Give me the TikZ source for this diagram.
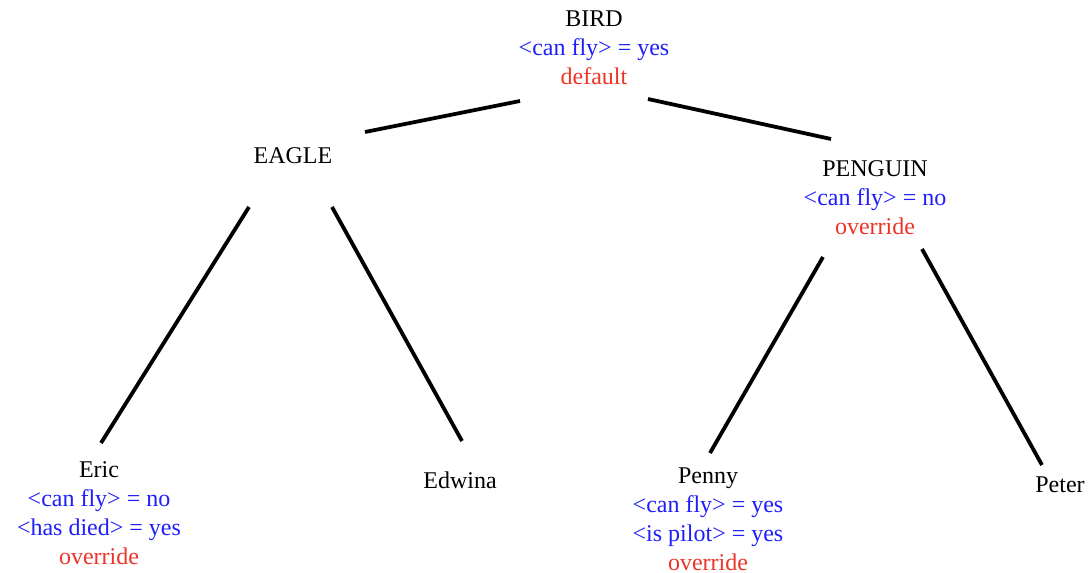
\documentclass[tikz,border=0pt]{standalone}
\usepackage{fontspec}
\setmainfont{Liberation Serif}
\usepackage{tikz}
\usetikzlibrary{positioning}
\usepackage{xcolor}

\definecolor{attrblue}{RGB}{30,30,250}
\definecolor{noteRed}{RGB}{236,52,40}

\begin{document}
\begin{tikzpicture}[x=1pt, y=-1pt,
    every node/.style={inner sep=0pt, align=center, anchor=base,
      font=\fontsize{24}{29}\selectfont},
    branch/.style={line width=3.8pt, black}]

      \useasboundingbox (0, 0) rectangle (1088, 573);

      % base of a stacked node is its last line
      \node (bird) at (594, 84) {BIRD\\ \textcolor{attrblue}{<can fly> = yes}\\ \textcolor{noteRed}{default}};
      \node (eagle) at (293, 163) {EAGLE};
      \node (penguin) at (875, 234) {PENGUIN\\ \textcolor{attrblue}{<can fly> = no}\\ \textcolor{noteRed}{override}};

      \node (eric) at (99, 564) {Eric\\ \textcolor{attrblue}{<can fly> = no}\\ \textcolor{attrblue}{<has died> = yes}\\ \textcolor{noteRed}{override}};
      \node (edwina) at (460, 488) {Edwina};
      \node (penny) at (708, 570) {Penny\\ \textcolor{attrblue}{<can fly> = yes}\\ \textcolor{attrblue}{<is pilot> = yes}\\ \textcolor{noteRed}{override}};
      \node (peter) at (1060, 492) {Peter};

      \draw[branch] ([shift={(-74, 17)}]bird.base) -- ([shift={(72, -31)}]eagle.base);
      \draw[branch] ([shift={(54, 15)}]bird.base) -- ([shift={(-44, -95)}]penguin.base);

      \draw[branch] ([shift={(-44, 44)}]eagle.base) -- ([shift={(2, -121)}]eric.base);
      \draw[branch] ([shift={(39, 44)}]eagle.base) -- ([shift={(2, -47)}]edwina.base);

      \draw[branch] ([shift={(-52, 23)}]penguin.base) -- ([shift={(2, -117)}]penny.base);
      \draw[branch] ([shift={(47, 15)}]penguin.base) -- ([shift={(-18, -27)}]peter.base);

    \end{tikzpicture}
\end{document}
